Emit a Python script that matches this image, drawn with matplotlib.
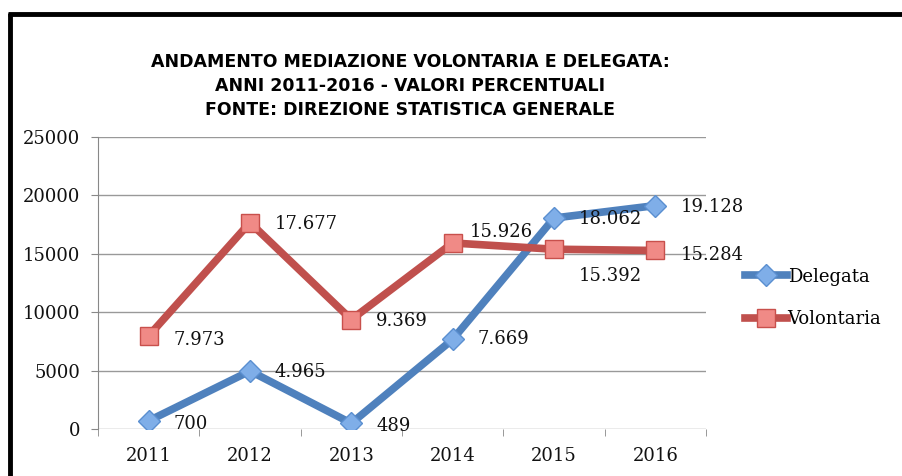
import matplotlib.pyplot as plt
from matplotlib.lines import Line2D
from matplotlib.ticker import MultipleLocator, FixedLocator

years = ['2011', '2012', '2013', '2014', '2015', '2016']
delegata = [700, 4965, 489, 7669, 18062, 19128]
volontaria = [7973, 17677, 9369, 15926, 15392, 15284]

title = ('ANDAMENTO MEDIAZIONE VOLONTARIA E DELEGATA:\n'
         'ANNI 2011-2016 - VALORI PERCENTUALI\n'
         'FONTE: DIREZIONE STATISTICA GENERALE')

blue = '#4F81BD'
red = '#C0504D'
serif = 'DejaVu Serif'
fs = 13

def fmt(v):
    return f'{v:,}'.replace(',', '.')

fig = plt.figure(figsize=(9.03, 4.76), dpi=100)
ax = fig.add_axes([98 / 903, 1 - 429 / 476, 608 / 903, 292 / 476])

x = [i + 0.5 for i in range(len(years))]
ax.plot(x, delegata, color=blue, lw=5.5, marker='D', ms=11,
        mfc='#7FAEE8', mec='#5A8FD0', mew=1, label='Delegata', zorder=3)
ax.plot(x, volontaria, color=red, lw=5.5, marker='s', ms=13,
        mfc='#F08A86', mec='#C8504C', mew=1, label='Volontaria', zorder=3)

# label offsets in points (dx, dy)
off_d = [(18, -2), (18, -1), (18, -2), (18, 0), (18, -1), (18, -1)]
off_v = [(18, -3), (18, -1), (18, -1), (12, 8), (18, -19), (18, -3)]
for xi, v, o in zip(x, delegata, off_d):
    ax.annotate(fmt(v), (xi, v), xytext=o, textcoords='offset points',
                ha='left', va='center', fontsize=fs, family=serif,
                color='#111111', zorder=4)
for xi, v, o in zip(x, volontaria, off_v):
    ax.annotate(fmt(v), (xi, v), xytext=o, textcoords='offset points',
                ha='left', va='center', fontsize=fs, family=serif,
                color='#111111', zorder=4)

ax.set_xlim(0, 6)
ax.set_ylim(0, 25000)
ax.yaxis.set_major_locator(MultipleLocator(5000))
ax.set_xticks(x)
ax.set_xticklabels(years)
ax.xaxis.set_minor_locator(FixedLocator(range(7)))
ax.tick_params(axis='x', which='major', length=0, pad=13)
ax.tick_params(axis='x', which='minor', length=5, color='#888888', direction='out')
ax.tick_params(axis='y', length=5, color='#888888', pad=8)
for lab in ax.get_xticklabels() + ax.get_yticklabels():
    lab.set_family(serif)
    lab.set_fontsize(fs)
    lab.set_color('#111111')

ax.grid(axis='y', color='#999999', lw=1)
ax.set_axisbelow(True)
for s in ['top', 'right', 'bottom']:
    ax.spines[s].set_visible(False)
ax.spines['left'].set_color('#888888')

fig.text(410 / 903, 1 - 86 / 476, title, ha='center', va='center',
         fontsize=12.5, fontweight='bold', family='DejaVu Sans',
         linespacing=1.45)

ax.legend(loc='center left', bbox_to_anchor=(738 / 903, 1 - 298 / 476),
          bbox_transform=fig.transFigure, frameon=False,
          prop={'family': serif, 'size': fs}, handlelength=2.3,
          handletextpad=0.05, labelspacing=1.35, borderaxespad=0)

# thick black frame (left and top)
fig.add_artist(Line2D([10 / 903, 10 / 903], [0, 1 - 13 / 476], color='black',
                      lw=3.5, transform=fig.transFigure, solid_capstyle='butt'))
fig.add_artist(Line2D([8 / 903, 1], [1 - 14 / 476, 1 - 14 / 476], color='black',
                      lw=3.5, transform=fig.transFigure, solid_capstyle='butt'))

fig.savefig('out.png', dpi=100)
